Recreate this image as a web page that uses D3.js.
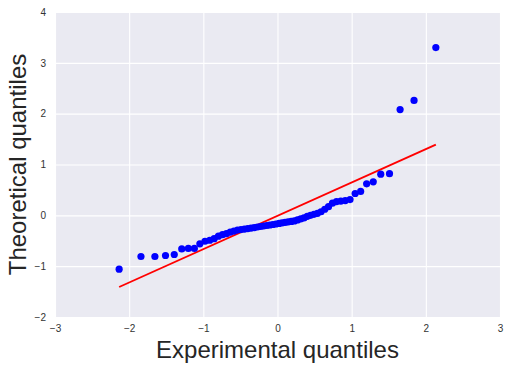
<!DOCTYPE html>
<html>
<head>
<meta charset="utf-8">
<script src="https://cdn.jsdelivr.net/npm/d3@7.9.0/dist/d3.min.js"></script>
<style>
  body { margin: 0; background: #fff; }
  text { font-family: "Liberation Sans", Arial, sans-serif; }
</style>
</head>
<body>
<svg id="qq"></svg>
<script>
// theoretical normal quantiles (x) and sorted sample (y)
const xQuant = [
  -2.135, -1.841, -1.653, -1.510, -1.392, -1.291, -1.202, -1.121, -1.047, -0.978,
  -0.914, -0.854, -0.796, -0.741, -0.688, -0.637, -0.587, -0.539, -0.492, -0.446,
  -0.401, -0.357, -0.313, -0.270, -0.228, -0.186, -0.144, -0.103, -0.062, -0.021,
  0.021, 0.062, 0.103, 0.144, 0.186, 0.228, 0.270, 0.313, 0.357, 0.401,
  0.446, 0.492, 0.539, 0.587, 0.637, 0.688, 0.741, 0.796, 0.854, 0.914,
  0.978, 1.047, 1.121, 1.202, 1.291, 1.392, 1.510, 1.653, 1.841, 2.135
];
const yQuant = [
  -1.06, -0.81, -0.81, -0.79, -0.77, -0.66, -0.65, -0.65, -0.56, -0.51,
  -0.49, -0.46, -0.41, -0.38, -0.36, -0.33, -0.31, -0.29, -0.28, -0.27,
  -0.26, -0.25, -0.24, -0.23, -0.22, -0.21, -0.20, -0.19, -0.18, -0.17,
  -0.16, -0.15, -0.14, -0.13, -0.12, -0.11, -0.09, -0.07, -0.05, -0.02,
  0.00, 0.02, 0.04, 0.07, 0.12, 0.17, 0.24, 0.27, 0.28, 0.29,
  0.31, 0.43, 0.47, 0.62, 0.66, 0.81, 0.82, 2.08, 2.26, 3.30
];
// endpoints of the red reference line
const fitLine = [[-2.135, -1.41], [2.135, 1.39]];

const xTicks = [-3, -2, -1, 0, 1, 2, 3];
const yTicks = [-2, -1, 0, 1, 2, 3, 4];

const width = 510;
const height = 369;
const margin = { top: 12, right: 10, bottom: 52, left: 55 };

const svg = d3.select('#qq')
  .attr('width', width)
  .attr('height', height);

const xScale = d3.scaleLinear()
  .domain([-3, 3])
  .range([margin.left, width - margin.right]);

const yScale = d3.scaleLinear()
  .domain([-2, 4])
  .range([height - margin.bottom, margin.top]);

// plot background
svg.append('rect')
  .attr('x', margin.left)
  .attr('y', margin.top)
  .attr('width', width - margin.left - margin.right)
  .attr('height', height - margin.top - margin.bottom)
  .attr('fill', '#eaeaf2');

const fmt = d => d3.format('d')(d).replace('-', '\u2212');

// grid lines
const xAxis = d3.axisBottom(xScale)
  .tickValues(xTicks)
  .tickSize(-(height - margin.top - margin.bottom))
  .tickFormat(fmt)
  .tickPadding(8);
const yAxis = d3.axisLeft(yScale)
  .tickValues(yTicks)
  .tickSize(-(width - margin.left - margin.right))
  .tickFormat(fmt)
  .tickPadding(9);

const gx = svg.append('g')
  .attr('transform', `translate(0, ${height - margin.bottom})`)
  .call(xAxis);
const gy = svg.append('g')
  .attr('transform', `translate(${margin.left}, 0)`)
  .call(yAxis);

[gx, gy].forEach(g => {
  g.select('.domain').remove();
  g.selectAll('.tick line').attr('stroke', '#fff').attr('stroke-width', 1.1);
  g.selectAll('.tick text')
    .attr('fill', '#333')
    .style('font-size', '10px');
});

// reference line
svg.append('path')
  .datum(fitLine)
  .attr('fill', 'none')
  .attr('stroke', '#ff0000')
  .attr('stroke-width', 1.9)
  .attr('d', d3.line().x(d => xScale(d[0])).y(d => yScale(d[1])));

// points
svg.append('g')
  .selectAll('circle')
  .data(xQuant.map((x, i) => [x, yQuant[i]]))
  .join('circle')
    .attr('cx', d => xScale(d[0]))
    .attr('cy', d => yScale(d[1]))
    .attr('r', 3.6)
    .attr('fill', '#0000ff');

// axis titles
svg.append('text')
  .attr('x', (margin.left + width - margin.right) / 2)
  .attr('y', 358)
  .attr('text-anchor', 'middle')
  .attr('fill', '#262626')
  .style('font-size', '24px')
  .text('Experimental quantiles');

svg.append('text')
  .attr('transform', `translate(26, ${(margin.top + height - margin.bottom) / 2}) rotate(-90)`)
  .attr('text-anchor', 'middle')
  .attr('fill', '#262626')
  .style('font-size', '24px')
  .text('Theoretical quantiles');
</script>
</body>
</html>
